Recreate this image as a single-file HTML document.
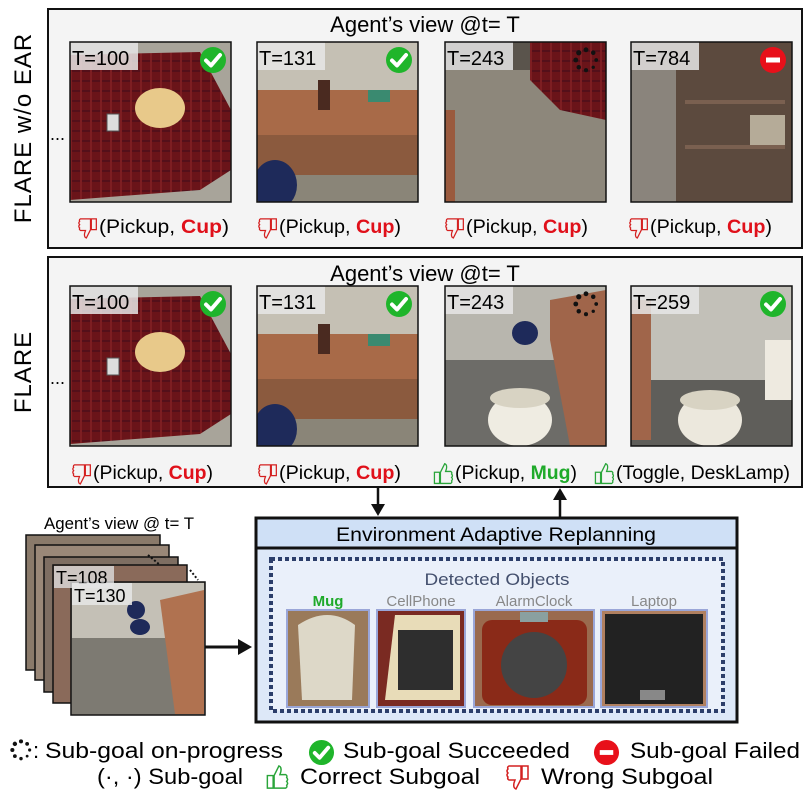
<!DOCTYPE html>
<html><head><meta charset="utf-8"><style>
html,body{margin:0;padding:0;background:#fff;}
svg{display:block;}
text{font-family:"Liberation Sans",sans-serif;}
</style></head><body>
<svg width="811" height="811" viewBox="0 0 811 811" xmlns="http://www.w3.org/2000/svg">
<defs>
<symbol id="chk" viewBox="0 0 28 28"><circle cx="14" cy="14" r="13" fill="#1fb52b"/><path d="M7 14.5 L12 19.5 L21 9" stroke="#fff" stroke-width="4" fill="none" stroke-linecap="round" stroke-linejoin="round"/></symbol>
<symbol id="fail" viewBox="0 0 28 28"><circle cx="14" cy="14" r="13" fill="#e8101a"/><rect x="7" y="11.5" width="14" height="5" fill="#fff"/></symbol>
<symbol id="dots" viewBox="0 0 28 28"><g fill="#111"><circle cx="14" cy="3" r="2.6"/><circle cx="21.8" cy="6.2" r="2.4"/><circle cx="25" cy="14" r="2"/><circle cx="21.8" cy="21.8" r="1.8"/><circle cx="14" cy="25" r="2.2"/><circle cx="6.2" cy="21.8" r="2.4"/><circle cx="3" cy="14" r="2.6"/><circle cx="6.2" cy="6.2" r="2.8"/></g></symbol>
<symbol id="tdown" viewBox="0 0 24 28"><path d="M3 3 H15 V16 L10 26 Q7 25 8 20 L9 17 H3 Q1 16 2 14 Q0 12 2 10 Q0 8 2 6 Q1 4 3 3 Z M16 3 H22 V16 H16 Z" fill="none" stroke="#d42020" stroke-width="1.5"/></symbol>
<symbol id="tup" viewBox="0 0 24 28"><path d="M3 25 H15 V12 L10 2 Q7 3 8 8 L9 11 H3 Q1 12 2 14 Q0 16 2 18 Q0 20 2 22 Q1 24 3 25 Z M16 25 H22 V12 H16 Z" fill="none" stroke="#2aa53a" stroke-width="1.5" transform="translate(24,0) scale(-1,1)"/></symbol>
<pattern id="plaid" width="10" height="10" patternUnits="userSpaceOnUse"><rect width="10" height="10" fill="#6a1419"/><rect width="10" height="2" fill="#54101a"/><rect width="2" height="10" fill="#7d1e22"/></pattern>
<clipPath id="c12"><rect x="257" y="42" width="161" height="160"/></clipPath>
<clipPath id="c22"><rect x="257" y="286" width="161" height="160"/></clipPath>
</defs>

<!-- Side labels -->
<text transform="translate(31,128) rotate(-90)" text-anchor="middle" font-size="24" letter-spacing="1">FLARE w/o EAR</text>
<text transform="translate(31,372) rotate(-90)" text-anchor="middle" font-size="24" letter-spacing="1">FLARE</text>

<!-- Panel 1 -->
<rect x="48" y="9" width="754" height="239" fill="#f4f4f4" stroke="#111" stroke-width="2"/>
<text x="425" y="32" text-anchor="middle" font-size="22">Agent’s view @t= T</text>
<text x="50" y="140" font-size="18">...</text>
<g>
<rect x="70" y="42" width="161" height="160" fill="#a8a49a"/>
<path d="M70 55 L200 52 L231 110 L231 170 L200 190 L70 200 Z" fill="url(#plaid)"/>
<ellipse cx="160" cy="108" rx="25" ry="20" fill="#e8c98a"/>
<rect x="107" y="114" width="12" height="17" fill="#ddd" stroke="#555"/>
</g>
<g clip-path="url(#c12)">
<rect x="257" y="42" width="161" height="160" fill="#c5c0b4"/>
<rect x="257" y="90" width="161" height="45" fill="#a86a48"/>
<rect x="257" y="135" width="161" height="40" fill="#8b5a3e"/>
<rect x="257" y="175" width="161" height="27" fill="#8a8578"/>
<ellipse cx="275" cy="185" rx="22" ry="25" fill="#1e2a5a"/>
<rect x="318" y="80" width="12" height="30" fill="#4a2a20"/>
<rect x="368" y="90" width="22" height="12" fill="#3a8a70"/>
</g>
<g>
<rect x="445" y="42" width="161" height="160" fill="#8d877b"/>
<rect x="445" y="42" width="161" height="28" fill="#5a544c"/>
<path d="M530 42 L606 42 L606 120 L560 110 L530 80 Z" fill="url(#plaid)"/>
<rect x="445" y="110" width="10" height="92" fill="#9a5a3e"/>
</g>
<g>
<rect x="631" y="42" width="161" height="160" fill="#5c4a3e"/>
<rect x="631" y="70" width="45" height="132" fill="#8a847c"/>
<rect x="685" y="100" width="100" height="4" fill="#7a6050"/>
<rect x="685" y="145" width="100" height="4" fill="#7a6050"/>
<rect x="750" y="115" width="35" height="30" fill="#b5ab98"/>
</g>
<g font-size="20">
<rect x="70" y="42" width="68" height="28" fill="#e6e6e6" opacity="0.85"/><text x="72" y="65">T=100</text>
<rect x="257" y="42" width="68" height="28" fill="#e6e6e6" opacity="0.85"/><text x="259" y="65">T=131</text>
<rect x="445" y="42" width="68" height="28" fill="#e6e6e6" opacity="0.85"/><text x="447" y="65">T=243</text>
<rect x="631" y="42" width="68" height="28" fill="#e6e6e6" opacity="0.85"/><text x="633" y="65">T=784</text>
</g>
<g fill="none" stroke="#111" stroke-width="1.5"><rect x="70" y="42" width="161" height="160"/><rect x="257" y="42" width="161" height="160"/><rect x="445" y="42" width="161" height="160"/><rect x="631" y="42" width="161" height="160"/></g>
<use href="#chk" x="199" y="46" width="28" height="28"/>
<use href="#chk" x="385" y="46" width="28" height="28"/>
<use href="#dots" x="573" y="47" width="26" height="26"/>
<use href="#fail" x="759" y="46" width="28" height="28"/>
<g font-size="19">
<use href="#tdown" x="78" y="216" width="20" height="24"/><text x="99" y="233" textLength="130" lengthAdjust="spacingAndGlyphs">(Pickup, <tspan fill="#e0101a" font-weight="bold">Cup</tspan>)</text>
<use href="#tdown" x="258" y="216" width="20" height="24"/><text x="279" y="233" textLength="122" lengthAdjust="spacingAndGlyphs">(Pickup, <tspan fill="#e0101a" font-weight="bold">Cup</tspan>)</text>
<use href="#tdown" x="445" y="216" width="20" height="24"/><text x="466" y="233" textLength="122" lengthAdjust="spacingAndGlyphs">(Pickup, <tspan fill="#e0101a" font-weight="bold">Cup</tspan>)</text>
<use href="#tdown" x="629" y="216" width="20" height="24"/><text x="650" y="233" textLength="122" lengthAdjust="spacingAndGlyphs">(Pickup, <tspan fill="#e0101a" font-weight="bold">Cup</tspan>)</text>
</g>

<!-- Panel 2 -->
<rect x="48" y="257" width="754" height="230" fill="#f4f4f4" stroke="#111" stroke-width="2"/>
<text x="425" y="281" text-anchor="middle" font-size="22">Agent’s view @t= T</text>
<text x="50" y="384" font-size="18">...</text>
<g>
<rect x="70" y="286" width="161" height="160" fill="#a8a49a"/>
<path d="M70 299 L200 296 L231 354 L231 414 L200 434 L70 444 Z" fill="url(#plaid)"/>
<ellipse cx="160" cy="352" rx="25" ry="20" fill="#e8c98a"/>
<rect x="107" y="358" width="12" height="17" fill="#ddd" stroke="#555"/>
</g>
<g clip-path="url(#c22)">
<rect x="257" y="286" width="161" height="160" fill="#c5c0b4"/>
<rect x="257" y="334" width="161" height="45" fill="#a86a48"/>
<rect x="257" y="379" width="161" height="40" fill="#8b5a3e"/>
<rect x="257" y="419" width="161" height="27" fill="#8a8578"/>
<ellipse cx="275" cy="429" rx="22" ry="25" fill="#1e2a5a"/>
<rect x="318" y="324" width="12" height="30" fill="#4a2a20"/>
<rect x="368" y="334" width="22" height="12" fill="#3a8a70"/>
</g>
<g>
<rect x="445" y="286" width="161" height="160" fill="#b8b6ae"/>
<rect x="445" y="360" width="161" height="86" fill="#6d6c68"/>
<path d="M550 300 L606 290 L606 446 L570 446 L550 340 Z" fill="#a0654a"/>
<ellipse cx="520" cy="420" rx="32" ry="26" fill="#efece2"/>
<ellipse cx="520" cy="398" rx="30" ry="10" fill="#d8d3c3"/>
<ellipse cx="525" cy="333" rx="13" ry="12" fill="#1e2a5a"/>
</g>
<g>
<rect x="631" y="286" width="161" height="160" fill="#c2c0b8"/>
<rect x="631" y="380" width="161" height="66" fill="#5f5e5a"/>
<rect x="631" y="300" width="20" height="140" fill="#a0654a"/>
<rect x="765" y="340" width="27" height="60" fill="#eeeae0"/>
<ellipse cx="710" cy="420" rx="32" ry="26" fill="#ece8dd"/>
<ellipse cx="710" cy="400" rx="30" ry="10" fill="#d8d3c3"/>
</g>
<g font-size="20">
<rect x="70" y="286" width="68" height="28" fill="#e6e6e6" opacity="0.85"/><text x="72" y="309">T=100</text>
<rect x="257" y="286" width="68" height="28" fill="#e6e6e6" opacity="0.85"/><text x="259" y="309">T=131</text>
<rect x="445" y="286" width="68" height="28" fill="#e6e6e6" opacity="0.85"/><text x="447" y="309">T=243</text>
<rect x="631" y="286" width="68" height="28" fill="#e6e6e6" opacity="0.85"/><text x="633" y="309">T=259</text>
</g>
<g fill="none" stroke="#111" stroke-width="1.5"><rect x="70" y="286" width="161" height="160"/><rect x="257" y="286" width="161" height="160"/><rect x="445" y="286" width="161" height="160"/><rect x="631" y="286" width="161" height="160"/></g>
<use href="#chk" x="199" y="290" width="28" height="28"/>
<use href="#chk" x="385" y="290" width="28" height="28"/>
<use href="#dots" x="573" y="291" width="26" height="26"/>
<use href="#chk" x="759" y="290" width="28" height="28"/>
<g font-size="19">
<use href="#tdown" x="72" y="462" width="20" height="24"/><text x="93" y="479" textLength="120" lengthAdjust="spacingAndGlyphs">(Pickup, <tspan fill="#e0101a" font-weight="bold">Cup</tspan>)</text>
<use href="#tdown" x="258" y="462" width="20" height="24"/><text x="279" y="479" textLength="122" lengthAdjust="spacingAndGlyphs">(Pickup, <tspan fill="#e0101a" font-weight="bold">Cup</tspan>)</text>
<use href="#tup" x="432" y="462" width="22" height="24"/><text x="455" y="479" textLength="122" lengthAdjust="spacingAndGlyphs">(Pickup, <tspan fill="#1faa2a" font-weight="bold">Mug</tspan>)</text>
<use href="#tup" x="593" y="462" width="22" height="24"/><text x="616" y="479" textLength="174" lengthAdjust="spacingAndGlyphs">(Toggle, DeskLamp)</text>
</g>

<!-- Arrows between -->
<line x1="378" y1="487" x2="378" y2="506" stroke="#111" stroke-width="2.5"/>
<polygon points="371,504 385,504 378,516" fill="#111"/>
<line x1="560" y1="518" x2="560" y2="498" stroke="#111" stroke-width="2.5"/>
<polygon points="553,500 567,500 560,488" fill="#111"/>

<!-- Stack of frames -->
<text x="119" y="529" text-anchor="middle" font-size="17" textLength="150" lengthAdjust="spacingAndGlyphs">Agent’s view @ t= T</text>
<g stroke="#111" stroke-width="1.5">
<rect x="26" y="535" width="134" height="135" fill="#8a7a6a"/>
<rect x="35" y="545" width="134" height="135" fill="#9a8878"/>
<rect x="44" y="557" width="134" height="135" fill="#7e6e62"/>
<rect x="53" y="565" width="134" height="138" fill="#8a6a5a"/>
<rect x="71" y="582" width="134" height="133" fill="#8b8880"/>
</g>
<rect x="72" y="583" width="132" height="55" fill="#c4c0b6"/>
<rect x="72" y="638" width="132" height="76" fill="#7d7a72"/>
<path d="M160 600 L204 590 L204 714 L175 714 Z" fill="#b07250"/>
<ellipse cx="136" cy="610" rx="9" ry="9" fill="#1e2a5a"/>
<ellipse cx="140" cy="627" rx="10" ry="8" fill="#1e2a5a"/>
<rect x="54" y="566" width="60" height="22" fill="#ddd" opacity="0.8"/>
<text x="56" y="584" font-size="18">T=108</text>
<rect x="72" y="583" width="60" height="22" fill="#e6e6e6" opacity="0.85"/>
<text x="74" y="602" font-size="18">T=130</text>
<line x1="148" y1="555" x2="160" y2="565" stroke="#111" stroke-width="2" stroke-dasharray="2,2"/>
<line x1="190" y1="570" x2="198" y2="580" stroke="#111" stroke-width="2" stroke-dasharray="2,2"/>
<line x1="205" y1="647" x2="240" y2="647" stroke="#111" stroke-width="3"/>
<polygon points="238,639 252,647 238,655" fill="#111"/>

<!-- EAR box -->
<rect x="256" y="518" width="481" height="204" fill="#dde8f8" stroke="#111" stroke-width="3"/>
<rect x="256" y="518" width="481" height="30" fill="#cfe0f6" stroke="#111" stroke-width="3"/>
<text x="496" y="541" text-anchor="middle" font-size="19" textLength="320" lengthAdjust="spacingAndGlyphs">Environment Adaptive Replanning</text>
<rect x="271" y="559" width="452" height="152" fill="#eaf0fa" stroke="#2c3e6a" stroke-width="4" stroke-dasharray="4,3"/>
<text x="497" y="585" text-anchor="middle" font-size="17" fill="#44506e" textLength="145" lengthAdjust="spacingAndGlyphs">Detected Objects</text>
<g font-size="15" text-anchor="middle">
<text x="328" y="606" fill="#1faa2a" font-weight="bold">Mug</text>
<text x="421" y="606" fill="#888">CellPhone</text>
<text x="534" y="606" fill="#888">AlarmClock</text>
<text x="654" y="606" fill="#888">Laptop</text>
</g>
<g stroke="#9aa6d8" stroke-width="2">
<rect x="287" y="610" width="82" height="97" fill="#9a7a5a"/>
<rect x="377" y="610" width="88" height="97" fill="#7a2a22"/>
<rect x="474" y="610" width="120" height="97" fill="#9a6a4e"/>
<rect x="601" y="610" width="106" height="97" fill="#b08060"/>
</g>
<path d="M298 625 Q328 605 355 625 L352 700 L302 700 Z" fill="#ddd8c8"/>
<path d="M395 615 L460 615 L460 700 L385 700 Z" fill="#e8dcb8"/>
<rect x="398" y="630" width="55" height="60" fill="#2e2e2e"/>
<rect x="482" y="620" width="105" height="85" rx="10" fill="#8a2a18"/>
<circle cx="534" cy="665" r="33" fill="#444"/>
<rect x="520" y="612" width="28" height="10" fill="#8aa0a0"/>
<rect x="605" y="614" width="98" height="90" fill="#222"/>
<rect x="640" y="690" width="25" height="10" fill="#888"/>

<!-- Legend -->
<g font-size="22">
<use href="#dots" x="10" y="739" width="22" height="22"/>
<text x="33" y="758">:</text>
<text x="45" y="758" textLength="238" lengthAdjust="spacingAndGlyphs">Sub-goal on-progress</text>
<use href="#chk" x="308" y="739" width="27" height="27"/>
<text x="343" y="758" textLength="227" lengthAdjust="spacingAndGlyphs">Sub-goal Succeeded</text>
<use href="#fail" x="593" y="739" width="27" height="27"/>
<text x="630" y="758" textLength="170" lengthAdjust="spacingAndGlyphs">Sub-goal Failed</text>
<text x="97" y="784" textLength="146" lengthAdjust="spacingAndGlyphs">(·, ·) Sub-goal</text>
<use href="#tup" x="264" y="764" width="26" height="27"/>
<text x="300" y="784" textLength="180" lengthAdjust="spacingAndGlyphs">Correct Subgoal</text>
<use href="#tdown" x="505" y="763" width="26" height="28"/>
<text x="541" y="784" textLength="172" lengthAdjust="spacingAndGlyphs">Wrong Subgoal</text>
</g>
</svg>
</body></html>
